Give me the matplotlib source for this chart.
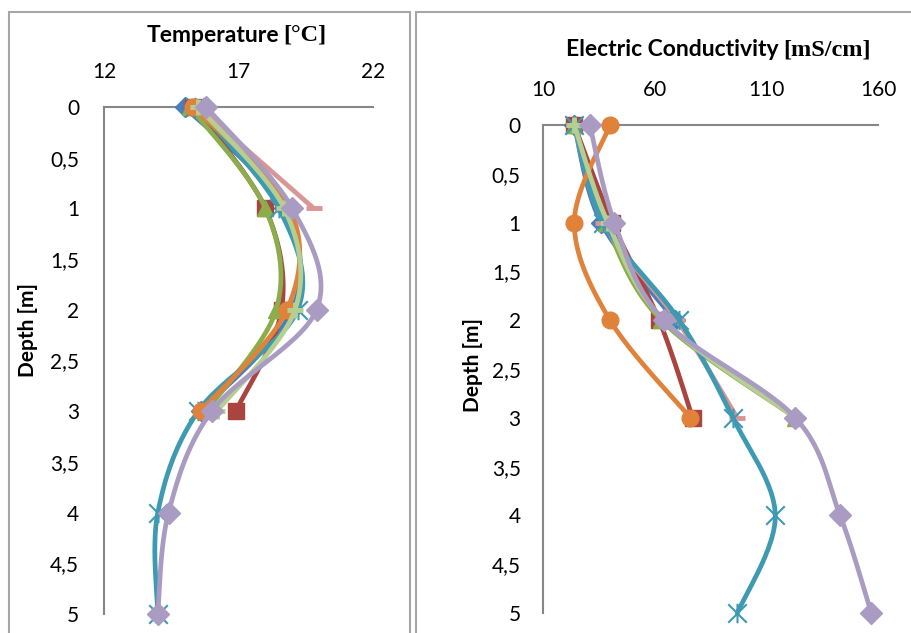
import numpy as np
import matplotlib
matplotlib.use("Agg")
import matplotlib.pyplot as plt
from matplotlib.path import Path
from matplotlib.patches import Rectangle

plt.rcParams['font.family'] = ['Lato', 'DejaVu Sans']

# depths (m)
depth_short = [0, 1, 2, 3]
depth_long = [0, 1, 2, 3, 4, 5]
depth_top3 = [0, 1, 2]
depth_pink_t = [0, 1]

# temperature (degC)
temp_blue = [15.0, 18.7, 19.0, 15.6]
temp_red = [15.3, 18.0, 18.6, 16.9]
temp_green = [15.2, 18.0, 18.4, 15.8]
temp_teal = [15.4, 18.5, 19.2, 15.5, 14.0, 14.0]
temp_orange = [15.3, 18.9, 18.8, 15.6]
temp_pink = [15.5, 19.8]
temp_lgreen = [15.5, 18.7, 19.1, 16.2]
temp_lavender = [15.8, 19.0, 19.9, 16.0, 14.4, 14.0]

# electric conductivity (mS/cm)
ec_blue = [24, 36, 69]
ec_red = [24, 41, 62, 77]
ec_green = [24, 38, 63, 123]
ec_teal = [24, 37, 71, 95, 114, 97]
ec_orange = [40, 24, 40, 76]
ec_pink = [24, 37, 70, 97]
ec_lgreen = [24, 39, 64, 123]
ec_lavender = [31, 42, 64, 123, 143, 157]

depth_ticks = [0, 0.5, 1, 1.5, 2, 2.5, 3, 3.5, 4, 4.5, 5]
depth_labels = ["0", "0,5", "1", "1,5", "2", "2,5", "3", "3,5", "4", "4,5", "5"]
temp_ticks = [12, 17, 22]
ec_ticks = [10, 60, 110, 160]

star = Path([(-1, -1), (1, 1), (-1, 1), (1, -1), (0, -1.05), (0, 1.05)],
            [Path.MOVETO, Path.LINETO, Path.MOVETO, Path.LINETO, Path.MOVETO, Path.LINETO])

styles = {
    "blue": dict(color="#4A7EBB", marker="D", ms=10),
    "red": dict(color="#A9443F", marker="s", ms=11),
    "green": dict(color="#8BAD4C", marker="^", ms=12),
    "teal": dict(color="#3E9AB2", marker=star, ms=14),
    "orange": dict(color="#E0823A", marker="o", ms=12),
    "pink": dict(color="#D99694", marker="_", ms=12),
    "lgreen": dict(color="#B5CF93", marker="+", ms=12),
    "lavender": dict(color="#A99BC1", marker="D", ms=11),
}


def smooth(x, y, sx, sy, n=30):
    # Catmull-Rom style smoothing (like the spreadsheet "smoothed line") in pixel space
    pts = np.column_stack([np.asarray(x, float) * sx, np.asarray(y, float) * sy])
    out = [pts[0]]
    t = np.linspace(0, 1, n)[1:, None]
    for i in range(len(pts) - 1):
        p0 = pts[i - 1] if i > 0 else pts[i]
        p1 = pts[i]
        p2 = pts[i + 1]
        p3 = pts[i + 2] if i + 2 < len(pts) else pts[i + 1]
        c1 = p1 + (p2 - p0) / 6
        c2 = p2 - (p3 - p1) / 6
        seg = (1 - t) ** 3 * p1 + 3 * (1 - t) ** 2 * t * c1 + 3 * (1 - t) * t ** 2 * c2 + t ** 3 * p2
        out.extend(seg)
    out = np.array(out)
    return out[:, 0] / sx, out[:, 1] / sy


def draw(ax, name, x, y, sx, sy):
    s = styles[name]
    xs, ys = smooth(x, y, sx, sy)
    ax.plot(xs, ys, color=s["color"], lw=3.4, solid_capstyle="round", clip_on=False, zorder=3)
    if s["marker"] in ("_", "+", star):
        ax.plot(x, y, ls="none", marker=s["marker"], ms=s["ms"], mec=s["color"], mfc="none",
                mew=3.5 if s["marker"] != star else 1.5, clip_on=False, zorder=3)
    else:
        ax.plot(x, y, ls="none", marker=s["marker"], ms=s["ms"], mec=s["color"], mfc=s["color"],
                clip_on=False, zorder=3)


def style_axis(ax, lim, ticks, ypad, xpad):
    ax.set_xlim(lim)
    ax.set_ylim(5, 0)
    ax.xaxis.tick_top()
    ax.set_xticks(ticks)
    ax.set_yticks(depth_ticks)
    ax.set_yticklabels(depth_labels)
    for sp in ["right", "bottom"]:
        ax.spines[sp].set_visible(False)
    for sp in ["top", "left"]:
        ax.spines[sp].set_color("#868686")
        ax.spines[sp].set_linewidth(1.5)
        ax.spines[sp].set_zorder(2)
    ax.tick_params(axis="both", length=0, labelsize=15, colors="black")
    ax.tick_params(axis="y", pad=ypad)
    ax.tick_params(axis="x", pad=xpad)
    ax.patch.set_visible(False)


fig = plt.figure(figsize=(9.11, 6.33), dpi=100)

# frames around each chart
fig.patches.append(Rectangle((9 / 911, -0.02), 401 / 911, 1 - 12 / 633 + 0.02, transform=fig.transFigure,
                             fill=False, ec="#A6A6A6", lw=1.5))
fig.patches.append(Rectangle((416 / 911, -0.02), 500 / 911, 1 - 12 / 633 + 0.02, transform=fig.transFigure,
                             fill=False, ec="#A6A6A6", lw=1.5))

ax1 = fig.add_axes([104 / 911, 19 / 633, 269 / 911, 507 / 633])
ax2 = fig.add_axes([543 / 911, 20 / 633, 335 / 911, 488 / 633])

style_axis(ax1, (12, 22), temp_ticks, 18, 18)
style_axis(ax2, (10, 160), ec_ticks, 16, 18)

sx1, sy1 = 26.9, 101.4
draw(ax1, "blue", temp_blue, depth_short, sx1, sy1)
draw(ax1, "red", temp_red, depth_short, sx1, sy1)
draw(ax1, "green", temp_green, depth_short, sx1, sy1)
draw(ax1, "teal", temp_teal, depth_long, sx1, sy1)
draw(ax1, "orange", temp_orange, depth_short, sx1, sy1)
draw(ax1, "pink", temp_pink, depth_pink_t, sx1, sy1)
draw(ax1, "lgreen", temp_lgreen, depth_short, sx1, sy1)
draw(ax1, "lavender", temp_lavender, depth_long, sx1, sy1)

sx2, sy2 = 2.233, 97.6
draw(ax2, "blue", ec_blue, depth_top3, sx2, sy2)
draw(ax2, "red", ec_red, depth_short, sx2, sy2)
draw(ax2, "green", ec_green, depth_short, sx2, sy2)
draw(ax2, "pink", ec_pink, depth_short, sx2, sy2)
draw(ax2, "teal", ec_teal, depth_long, sx2, sy2)
draw(ax2, "orange", ec_orange, depth_short, sx2, sy2)
draw(ax2, "lgreen", ec_lgreen, depth_short, sx2, sy2)
draw(ax2, "lavender", ec_lavender, depth_long, sx2, sy2)

# titles: sans part + serif unit part
fig.text(279 / 911, 1 - 35 / 633, "Temperature", ha="right", va="center", fontsize=16.5, fontweight="bold")
fig.text(283 / 911, 1 - 35 / 633, "[°C]", ha="left", va="center", fontsize=17.5, fontweight="bold",
         family=["Liberation Serif", "DejaVu Serif"])
fig.text(779 / 911, 1 - 50 / 633, "Electric Conductivity", ha="right", va="center", fontsize=16.5, fontweight="bold")
fig.text(783 / 911, 1 - 50 / 633, "[mS/cm]", ha="left", va="center", fontsize=17.5, fontweight="bold",
         family=["Liberation Serif", "DejaVu Serif"])

fig.text(28 / 911, 1 - 330 / 633, "Depth [m]", rotation=90, ha="center", va="center", fontsize=15, fontweight="bold")
fig.text(473 / 911, 1 - 365 / 633, "Depth [m]", rotation=90, ha="center", va="center", fontsize=15, fontweight="bold")

fig.savefig("out.png", dpi=100)
